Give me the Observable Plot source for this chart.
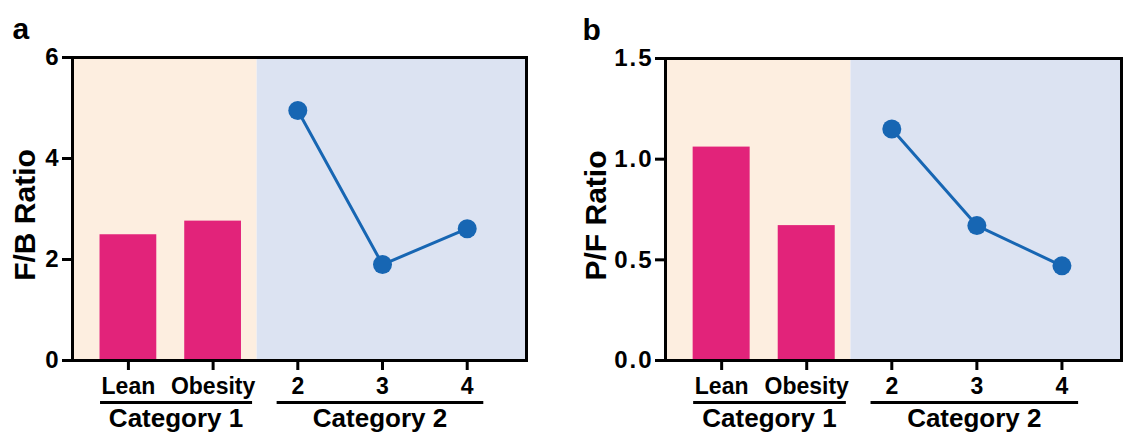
<!DOCTYPE html>
<html>
<head>
<meta charset="utf-8">
<script src="https://cdn.jsdelivr.net/npm/d3@7"></script>
<script src="https://cdn.jsdelivr.net/npm/@observablehq/plot@0.6"></script>
<style>
  body { margin: 0; background: white; }
  #wrap { display: flex; width: 1123px; height: 432px; }
  g[aria-label="y-axis tick label"] text { letter-spacing: 2px; }
</style>
</head>
<body>
<div id="wrap"></div>
<script>
// ---- data ----
const categories = ["Lean", "Obesity", "2", "3", "4"];
const groupNames = ["Category 1", "Category 2"];
const groupOf = [0, 0, 1, 1, 1];
const fbValues = [2.49, 2.76, 4.95, 1.90, 2.61];
const pfValues = [1.06, 0.67, 1.15, 0.67, 0.47];
const fbTicks = [0, 2, 4, 6];
const pfTicks = [0, 0.5, 1.0, 1.5];

// ---- style ----
const PEACH = "#fdeee0";
const LAVENDER = "#dce3f2";
const PINK = "#e2237a";
const BLUE = "#1766b3";
const FONT = "'Liberation Sans', Arial, Helvetica, sans-serif";
const X_DOMAIN = [-0.66, 4.70];
const SPLIT = 1.52;
const BAR_HALF = 0.335;
const UNDERLINE_PAD = [[0.335, 0.46], [0.25, 0.19]];

function panel({letter, label, values, ticks, tickFormat, width, marginLeft, marginRight, marginTop, labelDx, letterDx}) {
  const rows = values.map((v, i) => ({i, v, cat: categories[i], g: groupOf[i]}));
  const bars = rows.filter(d => d.g === 0);
  const pts = rows.filter(d => d.g === 1);
  const yMax = ticks[ticks.length - 1];
  const bg = [
    {x1: X_DOMAIN[0], x2: SPLIT, fill: PEACH},
    {x1: SPLIT, x2: X_DOMAIN[1], fill: LAVENDER}
  ];
  const groups = groupNames.map((name, g) => {
    const idx = rows.filter(d => d.g === g).map(d => d.i);
    const x1 = d3.min(idx) - UNDERLINE_PAD[g][0];
    const x2 = d3.max(idx) + UNDERLINE_PAD[g][1];
    return {name, x1, x2, mid: (x1 + x2) / 2};
  });
  return Plot.plot({
    width, height: 432,
    marginLeft, marginRight, marginTop, marginBottom: 72,
    style: {fontFamily: FONT, fontWeight: "bold", fontSize: "23px", color: "black", background: "white", overflow: "visible"},
    x: {domain: X_DOMAIN},
    y: {domain: [0, yMax]},
    marks: [
      Plot.rect(bg, {x1: "x1", x2: "x2", y1: 0, y2: yMax, fill: d => d.fill}),
      Plot.rectY(bars, {x1: d => d.i - BAR_HALF, x2: d => d.i + BAR_HALF, y1: 0, y2: "v", fill: PINK}),
      Plot.line(pts, {x: "i", y: "v", stroke: BLUE, strokeWidth: 3}),
      Plot.dot(pts, {x: "i", y: "v", r: 9.5, fill: BLUE, stroke: "none"}),
      Plot.frame({stroke: "black", strokeWidth: 3}),
      Plot.axisY({ticks, tickFormat, tickSize: 10, tickPadding: 2, fontSize: 24, strokeWidth: 3, label: null}),
      Plot.axisX({ticks: categories.map((c, i) => i), tickFormat: i => categories[i], tickSize: 10, tickPadding: 7, fontSize: 23, strokeWidth: 3, label: null}),
      Plot.link(groups, {x1: "x1", x2: "x2", y1: 0, y2: 0, dy: 42, stroke: "black", strokeWidth: 3}),
      Plot.text(groups, {x: "mid", y: 0, text: "name", dy: 66, lineAnchor: "bottom", fontSize: 26}),
      Plot.text([label], {frameAnchor: "left", text: d => d, rotate: -90, textAnchor: "middle", dx: labelDx, dy: 6, lineAnchor: "bottom", fontSize: 30}),
      Plot.text([letter], {frameAnchor: "top-left", text: d => d, textAnchor: "start", lineAnchor: "bottom", dx: letterDx, dy: -19, fontSize: 30})
    ]
  });
}

const wrap = document.getElementById("wrap");
wrap.append(panel({
  letter: "a", label: "F/B Ratio", values: fbValues, ticks: fbTicks, tickFormat: d3.format("d"),
  width: 561, marginLeft: 72, marginRight: 35, marginTop: 57, labelDx: -38, letterDx: -60
}));
wrap.append(panel({
  letter: "b", label: "P/F Ratio", values: pfValues, ticks: pfTicks, tickFormat: d3.format(".1f"),
  width: 562, marginLeft: 104, marginRight: 2, marginTop: 58, labelDx: -60, letterDx: -83
}));
</script>
</body>
</html>
